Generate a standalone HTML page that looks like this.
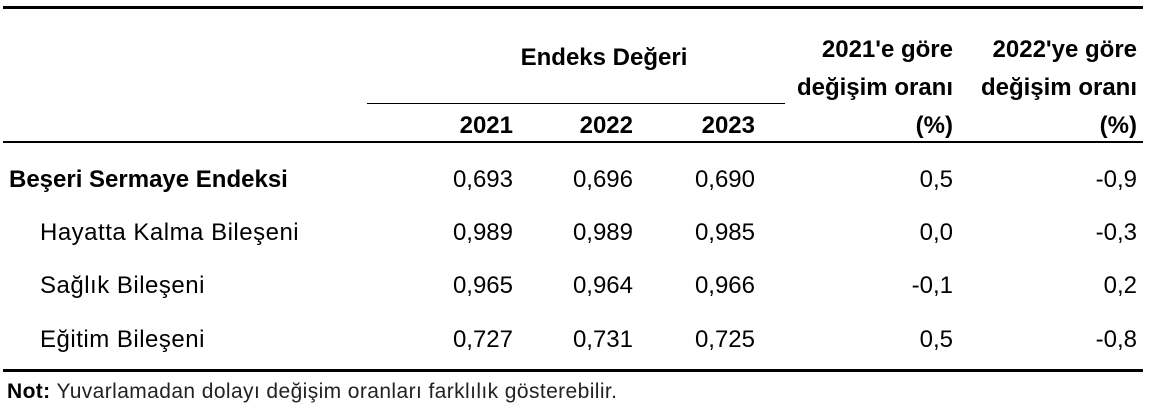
<!DOCTYPE html>
<html><head><meta charset="utf-8"><style>
body{margin:0;background:#fff;width:1149px;height:411px;position:relative;overflow:hidden;font-family:"Liberation Sans",Arial,sans-serif;color:#000}
.l{position:absolute;background:#000}
.t{position:absolute;font-size:24px;line-height:28px;white-space:nowrap}
.r{text-align:right}
.b{font-weight:bold}
.n{letter-spacing:0.5px}
</style></head><body>
<div class="l" style="left:3px;top:6px;width:1140px;height:3px"></div>
<div class="l" style="left:367px;top:103px;width:418px;height:1px"></div>
<div class="l" style="left:3px;top:141px;width:1140px;height:2px"></div>
<div class="l" style="left:3px;top:369px;width:1140px;height:3px"></div>

<div class="t b" style="left:420px;width:368px;text-align:center;top:44px">Endeks Değeri</div>
<div class="t b r" style="right:196px;top:36px">2021'e göre</div>
<div class="t b r" style="right:196px;top:74px">değişim oranı</div>
<div class="t b r" style="right:196px;top:112px">(%)</div>
<div class="t b r" style="right:12px;top:36px">2022'ye göre</div>
<div class="t b r" style="right:12px;top:74px">değişim oranı</div>
<div class="t b r" style="right:12px;top:112px">(%)</div>
<div class="t b r" style="right:636px;top:112px">2021</div>
<div class="t b r" style="right:516px;top:112px">2022</div>
<div class="t b r" style="right:394px;top:112px">2023</div>

<div class="t b" style="left:9px;top:166px">Beşeri Sermaye Endeksi</div>
<div class="t n" style="left:40px;top:219px">Hayatta Kalma Bileşeni</div>
<div class="t n" style="left:40px;top:272px">Sağlık Bileşeni</div>
<div class="t n" style="left:40px;top:326px">Eğitim Bileşeni</div>

<div class="t r" style="right:636px;top:166px">0,693</div>
<div class="t r" style="right:516px;top:166px">0,696</div>
<div class="t r" style="right:394px;top:166px">0,690</div>
<div class="t r" style="right:196px;top:166px">0,5</div>
<div class="t r" style="right:12px;top:166px">-0,9</div>

<div class="t r" style="right:636px;top:219px">0,989</div>
<div class="t r" style="right:516px;top:219px">0,989</div>
<div class="t r" style="right:394px;top:219px">0,985</div>
<div class="t r" style="right:196px;top:219px">0,0</div>
<div class="t r" style="right:12px;top:219px">-0,3</div>

<div class="t r" style="right:636px;top:272px">0,965</div>
<div class="t r" style="right:516px;top:272px">0,964</div>
<div class="t r" style="right:394px;top:272px">0,966</div>
<div class="t r" style="right:196px;top:272px">-0,1</div>
<div class="t r" style="right:12px;top:272px">0,2</div>

<div class="t r" style="right:636px;top:326px">0,727</div>
<div class="t r" style="right:516px;top:326px">0,731</div>
<div class="t r" style="right:394px;top:326px">0,725</div>
<div class="t r" style="right:196px;top:326px">0,5</div>
<div class="t r" style="right:12px;top:326px">-0,8</div>

<div class="t" style="left:7px;top:379px;font-size:21px;line-height:26px;letter-spacing:0.4px;color:#222"><b style="color:#000">Not:</b> Yuvarlamadan dolayı değişim oranları farklılık gösterebilir.</div>
</body></html>
